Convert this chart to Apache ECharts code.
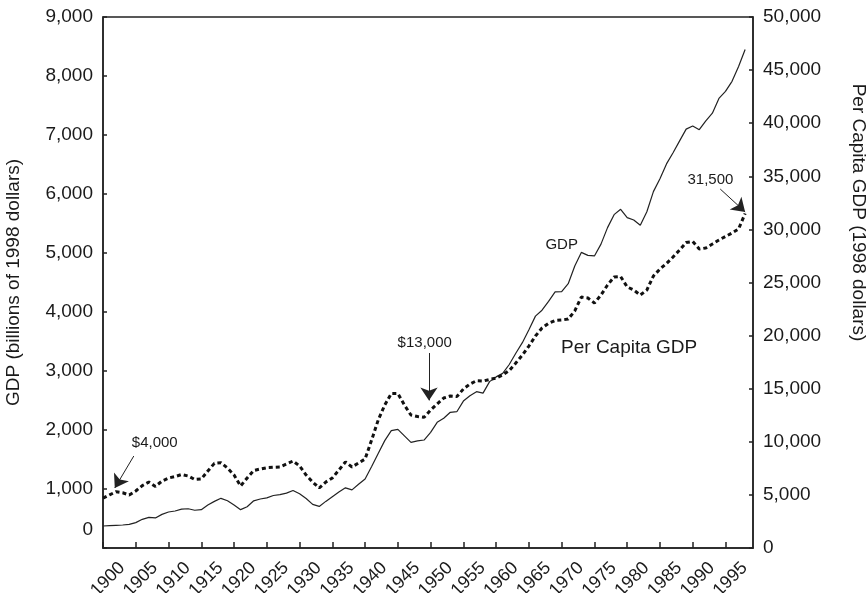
<!DOCTYPE html>
<html>
<head>
<meta charset="utf-8">
<script src="https://cdn.jsdelivr.net/npm/echarts@6/dist/echarts.min.js"></script>
<style>
html,body{margin:0;padding:0;background:#fff;}
#chart{width:867px;height:593px;}
</style>
</head>
<body>
<div id="chart"></div>
<script>
// ---- Data ----
const years = [];
for (let y = 1900; y <= 1998; y++) years.push(y);

// GDP, billions of 1998 dollars (left axis)
const gdp = [
  373, 380, 385, 390, 400, 430, 486, 520, 510, 570,
  610, 627, 660, 665, 640, 650, 730, 790, 842, 800,
  730, 650, 700, 800, 830, 850, 890, 905, 930, 975,
  920, 840, 740, 705, 790, 870, 950, 1020, 985, 1080,
  1170, 1380, 1600, 1820, 1990, 2010, 1900, 1790, 1815, 1830,
  1960, 2130, 2200, 2300, 2310, 2490, 2580, 2650, 2625, 2820,
  2900, 2960, 3110, 3300, 3480, 3700, 3930, 4030, 4180, 4340,
  4344, 4480, 4780, 5010, 4960, 4950, 5150, 5430, 5650, 5741,
  5600, 5560, 5470, 5700, 6040, 6260, 6510, 6700, 6900, 7100,
  7153, 7090, 7240, 7370, 7620, 7740, 7910, 8160, 8450
];

// Per capita GDP, 1998 dollars (right axis)
const perCapita = [
  4700, 5000, 5300, 5200, 4990, 5370, 5880, 6210, 5800, 6300,
  6590, 6730, 6920, 6780, 6450, 6500, 7250, 7970, 8030, 7530,
  6870, 5840, 6590, 7300, 7440, 7560, 7600, 7630, 7910, 8190,
  7720, 6870, 6210, 5650, 6210, 6590, 7340, 8100, 7630, 8000,
  8380, 10170, 12050, 13460, 14550, 14550, 13460, 12520, 12380, 12300,
  12990, 13560, 14120, 14310, 14260, 14970, 15440, 15750, 15720, 15870,
  16000, 16290, 16710, 17420, 18170, 19020, 19960, 20710, 21160, 21420,
  21470, 21560, 22320, 23630, 23540, 23070, 23820, 24760, 25520, 25560,
  24580, 24290, 23820, 24290, 25610, 26270, 26790, 27400, 28060, 28770,
  28860, 28150, 28250, 28620, 29000, 29330, 29660, 30040, 31500
];

// Axis ticks
const leftTicks = [0, 1000, 2000, 3000, 4000, 5000, 6000, 7000, 8000, 9000];
const rightTicks = [0, 5000, 10000, 15000, 20000, 25000, 30000, 35000, 40000, 45000, 50000];

// Annotations (year, per-capita-axis value)
const noteTexts = ['$4,000', '$13,000', '31,500', 'GDP', 'Per Capita GDP'];
const noteYears = [1907.9, 1949.1, 1992.7, 1970.0, 1980.3];
const noteValues = [9900, 19300, 34650, 28550, 18900];
const arrowFrom = [[1904.7, 8660], [1949.75, 18360], [1994.2, 33800]];
const arrowTo = [[1901.8, 5650], [1949.75, 13900], [1998.0, 31650]];

// ---- Styling / build ----
const FONT = "'Liberation Sans', Arial, Helvetica, sans-serif";
const INK = '#1a1a1a';
const noteSizes = [15, 15, 15, 15, 19];

function fmt(v) {
  return String(Math.round(v)).replace(/\B(?=(\d{3})+(?!\d))/g, ',');
}

const chart = echarts.init(document.getElementById('chart'), null, {renderer: 'canvas'});

const option = {
  animation: false,
  backgroundColor: '#fff',
  grid: {
    left: 103, right: 114, top: 17, bottom: 45,
    containLabel: false, outerBoundsMode: 'none',
    show: true, borderColor: '#222', borderWidth: 1.5, backgroundColor: 'transparent'
  },
  xAxis: {
    type: 'value',
    min: 1900, max: 1999.2, interval: 5,
    splitLine: {show: false},
    axisLine: {show: true, lineStyle: {color: '#222', width: 1.5}},
    axisTick: {show: true, inside: true, length: 6, lineStyle: {color: '#222', width: 1.5}},
    axisLabel: {
      show: true, rotate: 45, fontSize: 18, color: INK, fontFamily: FONT,
      margin: -2, verticalAlign: 'top', padding: [18, 0, 0, 0], showMaxLabel: false,
      formatter: v => (v % 5 === 0 ? String(v) : '')
    }
  },
  yAxis: [
    {
      type: 'value', position: 'left',
      min: leftTicks[0], max: leftTicks[leftTicks.length - 1], interval: 1000,
      splitLine: {show: false},
      axisLine: {show: true, lineStyle: {color: '#222', width: 1.5}},
      axisTick: {show: true, inside: true, length: 4, lineStyle: {color: '#222', width: 1.5}},
      axisLabel: {
        fontSize: 19, color: INK, fontFamily: FONT, margin: 10,
        formatter: v => (v === 0 ? '{z|0}' : fmt(v)),
        rich: {z: {fontSize: 19, color: INK, fontFamily: FONT, padding: [0, 0, 36, 0]}}
      },
      name: 'GDP (billions of 1998 dollars)',
      nameLocation: 'middle', nameGap: 80, nameRotate: 90,
      nameTextStyle: {fontSize: 19, color: INK, fontFamily: FONT}
    },
    {
      type: 'value', position: 'right',
      min: rightTicks[0], max: rightTicks[rightTicks.length - 1], interval: 5000,
      splitLine: {show: false},
      axisLine: {show: true, lineStyle: {color: '#222', width: 1.5}},
      axisTick: {show: true, inside: true, length: 4, lineStyle: {color: '#222', width: 1.5}},
      axisLabel: {fontSize: 19, color: INK, fontFamily: FONT, margin: 10, formatter: v => fmt(v)},
      name: 'Per Capita GDP (1998 dollars)',
      nameLocation: 'middle', nameGap: 96, nameRotate: -90,
      nameTextStyle: {fontSize: 19, color: INK, fontFamily: FONT, padding: [0, 140, 0, 0]}
    }
  ],
  series: [
    {
      name: 'GDP', type: 'line', yAxisIndex: 0,
      data: years.map((y, i) => [y, gdp[i]]),
      showSymbol: false, symbol: 'none',
      lineStyle: {color: '#222', width: 1.2},
      z: 3
    },
    {
      name: 'Per Capita GDP', type: 'line', yAxisIndex: 1,
      data: years.map((y, i) => [y, perCapita[i]]),
      showSymbol: false, symbol: 'none',
      lineStyle: {color: '#111', width: 3, type: [4, 3], cap: 'butt'},
      z: 4,
      markLine: {
        silent: true, animation: false,
        symbol: ['none', 'arrow'], symbolSize: 13,
        lineStyle: {color: '#222', width: 1, type: 'solid'},
        itemStyle: {color: '#111'},
        label: {show: false},
        data: arrowFrom.map((f, i) => [{coord: f}, {coord: arrowTo[i]}])
      },
      markPoint: {
        silent: true, animation: false,
        symbol: 'circle', symbolSize: 1,
        itemStyle: {color: 'rgba(0,0,0,0)'},
        data: noteTexts.map((t, i) => ({
          coord: [noteYears[i], noteValues[i]],
          label: {
            show: true, position: 'inside', formatter: t,
            fontSize: noteSizes[i], color: INK, fontFamily: FONT
          }
        }))
      }
    }
  ]
};

chart.setOption(option);
</script>
</body>
</html>
